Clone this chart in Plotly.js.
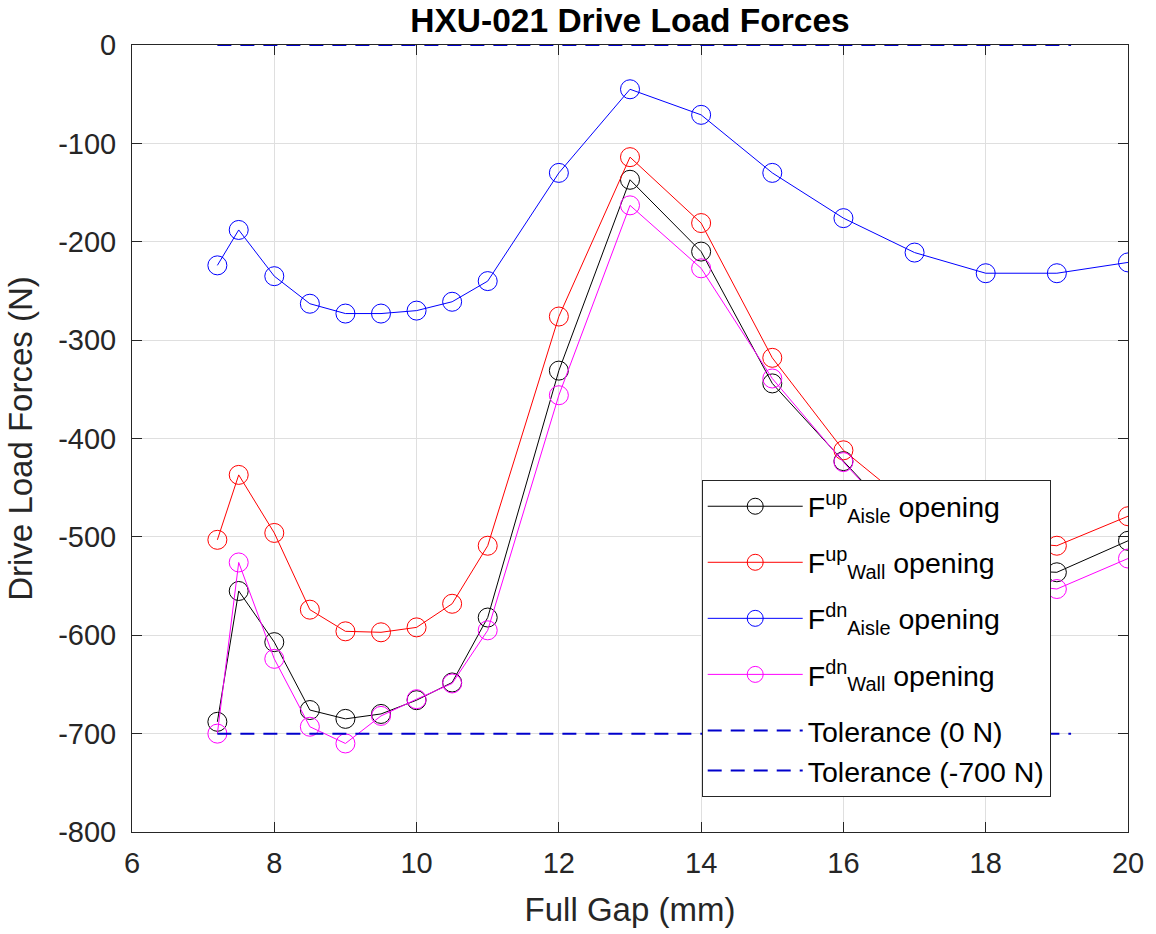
<!DOCTYPE html>
<html>
<head>
<meta charset="utf-8">
<script src="https://cdn.plot.ly/plotly-3.0.1.min.js"></script>
<style>html,body{margin:0;padding:0;background:#fff;}#chart{width:1156px;height:934px;}</style>
</head>
<body>
<div id="chart"></div>
<script>
// Full gap (mm)
const gap = [7.2, 7.5, 8, 8.5, 9, 9.5, 10, 10.5, 11, 12, 13, 14, 15, 16, 17, 18, 19, 20];
// Drive load forces (N)
const aisleUp = [-688, -555, -607, -676, -685, -680, -666, -648, -582, -331, -137, -210, -344, -423, -500, -533, -536, -504];
const wallUp  = [-503, -437, -496, -574, -596, -597, -592, -568, -509, -276, -114, -181, -318, -412, -471, -503, -509, -479];
const aisleDn = [-224, -188, -235, -263, -273, -273, -270, -261, -240, -130, -45, -71, -130, -176, -211, -232, -232, -221];
const wallDn  = [-700, -526, -624, -693, -710, -682, -665, -649, -595, -356, -163, -227, -339, -424, -502, -545, -553, -522];
// Tolerance lines
const tolX = [7.2, 19.2];
const tol0 = [0, 0];
const tol700 = [-700, -700];
// Tick labels
const xTickVals = [6, 8, 10, 12, 14, 16, 18, 20];
const yTickVals = [0, -100, -200, -300, -400, -500, -600, -700, -800];
const yTickLabels = ['0', '-100', '-200', '-300', '-400', '-500', '-600', '-700', '-800'];

const seriesNames = [
  'F<sup>up</sup><sub>Aisle</sub> opening',
  'F<sup>up</sup><sub>Wall</sub> opening',
  'F<sup>dn</sup><sub>Aisle</sub> opening',
  'F<sup>dn</sup><sub>Wall</sub> opening',
  'Tolerance (0 N)',
  'Tolerance (-700 N)'
];
const colors = ['#000000', '#ff0000', '#0000ff', '#ff00ff'];
const ys = [aisleUp, wallUp, aisleDn, wallDn];

const traces = ys.map((y, i) => ({
  x: gap, y: y, type: 'scatter', mode: 'lines+markers',
  name: seriesNames[i], legendgroup: 'g' + i,
  line: {color: colors[i], width: 1},
  marker: {symbol: 'circle-open', size: 19, color: colors[i], line: {width: 1, color: colors[i]}}
}));
traces.push({x: tolX, y: tol0, type: 'scatter', mode: 'lines', name: seriesNames[4], legendgroup: 'tol',
  line: {color: '#0000cc', width: 2, dash: '14px,9px'}});
traces.push({x: tolX, y: tol700, type: 'scatter', mode: 'lines', name: seriesNames[5], legendgroup: 'tol',
  line: {color: '#0000cc', width: 2, dash: '14px,9px'}});

const font = 'Liberation Sans, Arial, sans-serif';
const layout = {
  width: 1156, height: 934,
  margin: {l: 132, r: 28, t: 45, b: 102},
  paper_bgcolor: '#ffffff', plot_bgcolor: '#ffffff',
  font: {family: font, size: 28, color: '#262626'},
  title: {text: '<b>HXU-021 Drive Load Forces</b>', font: {family: font, size: 33.5, color: '#000000'},
    x: 0.5, xref: 'paper', y: 0.978, yref: 'container', yanchor: 'middle'},
  showlegend: true,
  legend: {x: 0.572, y: 0.447, xanchor: 'left', yanchor: 'top', bgcolor: '#ffffff',
    bordercolor: '#262626', borderwidth: 1, font: {family: font, size: 28.5, color: '#000000'},
    itemwidth: 95, tracegroupgap: 16, traceorder: 'grouped'},
  xaxis: {range: [6, 20], tickvals: xTickVals, showgrid: true, gridcolor: '#dfdfdf', gridwidth: 1,
    zeroline: false, showline: true, linecolor: '#262626', linewidth: 1, mirror: 'ticks',
    layer: 'below traces',
    ticks: 'inside', ticklen: 10, tickcolor: '#262626', tickfont: {size: 29, color: '#262626'},
    ticklabelstandoff: 5,
    title: {text: 'Full Gap (mm)', font: {size: 33, color: '#262626'}, standoff: 20}},
  yaxis: {range: [-800, 0], tickvals: yTickVals, ticktext: yTickLabels, showgrid: true, gridcolor: '#dfdfdf', gridwidth: 1,
    zeroline: false, showline: true, linecolor: '#262626', linewidth: 1, mirror: 'ticks',
    layer: 'below traces',
    ticks: 'inside', ticklen: 10, tickcolor: '#262626', tickfont: {size: 29, color: '#262626'},
    ticklabelstandoff: 9,
    title: {text: 'Drive Load Forces (N)', font: {size: 33, color: '#262626'}, standoff: 15}}
};
Plotly.newPlot('chart', traces, layout, {displayModeBar: false, staticPlot: true});
</script>
</body>
</html>
